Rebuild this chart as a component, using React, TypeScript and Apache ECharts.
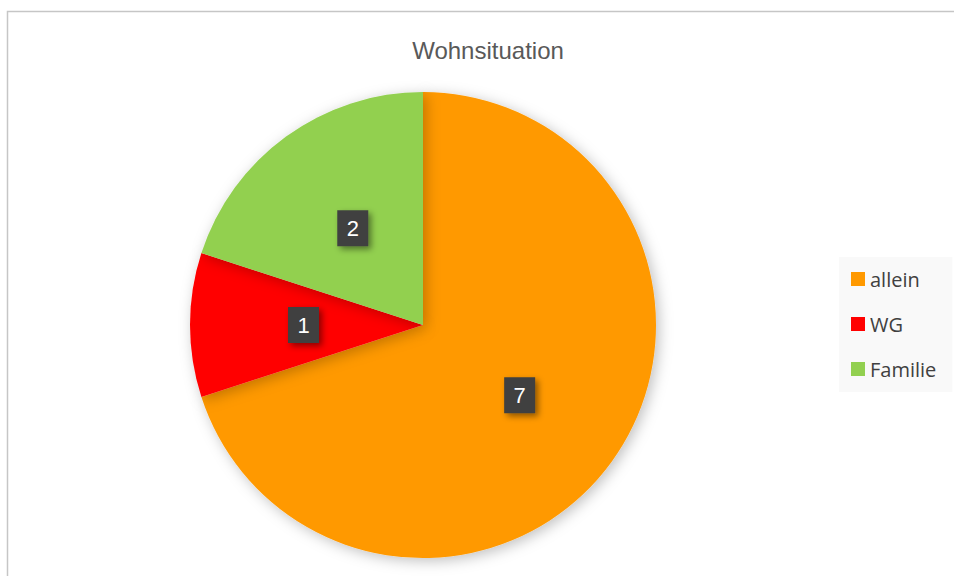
import React, { useEffect, useRef } from "react";
import * as echarts from "echarts";

const categories = ["allein", "WG", "Familie"];
const values = [7, 1, 2];
const colors = ["#FF9900", "#FF0000", "#92D050"];
const titleText = "Wohnsituation";

export default function App() {
  const ref = useRef<HTMLDivElement>(null);
  useEffect(() => {
    if (!ref.current) return;
    const chart = echarts.init(ref.current, undefined, { renderer: "svg" });
    chart.setOption({
      animation: false,
      backgroundColor: "#ffffff",
      title: {
        text: titleText,
        left: 483,
        top: 33,
        textAlign: "center",
        textStyle: {
          fontFamily: "Liberation Sans, Arial, sans-serif",
          fontSize: 24,
          fontWeight: "normal",
          color: "#595959",
        },
      },
      graphic: [
        {
          type: "rect",
          shape: { x: 7.5, y: 11.5, width: 1000, height: 700 },
          style: { fill: "none", stroke: "#c6c6c6", lineWidth: 1.5 },
          silent: true,
          z: -1,
        },
      ],
      legend: {
        orient: "vertical",
        left: 839,
        top: 257,
        padding: [12, 16, 13, 12],
        backgroundColor: "#f9f9f9",
        itemWidth: 14,
        itemHeight: 14,
        itemGap: 25,
        icon: "rect",
        data: categories,
        textStyle: {
          fontFamily: "Open Sans, Noto Sans, sans-serif",
          fontSize: 20,
          color: "#404040",
          lineHeight: 20,
        },
      },
      series: [
        {
          type: "pie",
          center: [423, 325],
          radius: 233,
          startAngle: 90,
          clockwise: true,
          data: categories.map((name, i) => ({
            name,
            value: values[i],
            itemStyle: { color: colors[i] },
          })),
          itemStyle: {
            shadowBlur: 14,
            shadowColor: "rgba(0,0,0,0.25)",
            shadowOffsetX: 3,
            shadowOffsetY: 3,
          },
          label: {
            show: true,
            position: "inside",
            formatter: "{c}",
            backgroundColor: "#404040",
            color: "#ffffff",
            fontFamily: "Liberation Sans, Arial, sans-serif",
            fontSize: 22,
            width: 31,
            height: 36,
            lineHeight: 36,
            align: "center",
            verticalAlign: "middle",
            shadowBlur: 6,
            shadowColor: "rgba(0,0,0,0.45)",
            shadowOffsetX: 3,
            shadowOffsetY: 3,
          },
          labelLine: { show: false },
          emphasis: { disabled: true },
        },
      ],
    });
    return () => chart.dispose();
  }, []);
  return (
    <div
      ref={ref}
      style={{ position: "fixed", left: 0, top: 0, width: 954, height: 576 }}
    />
  );
}
